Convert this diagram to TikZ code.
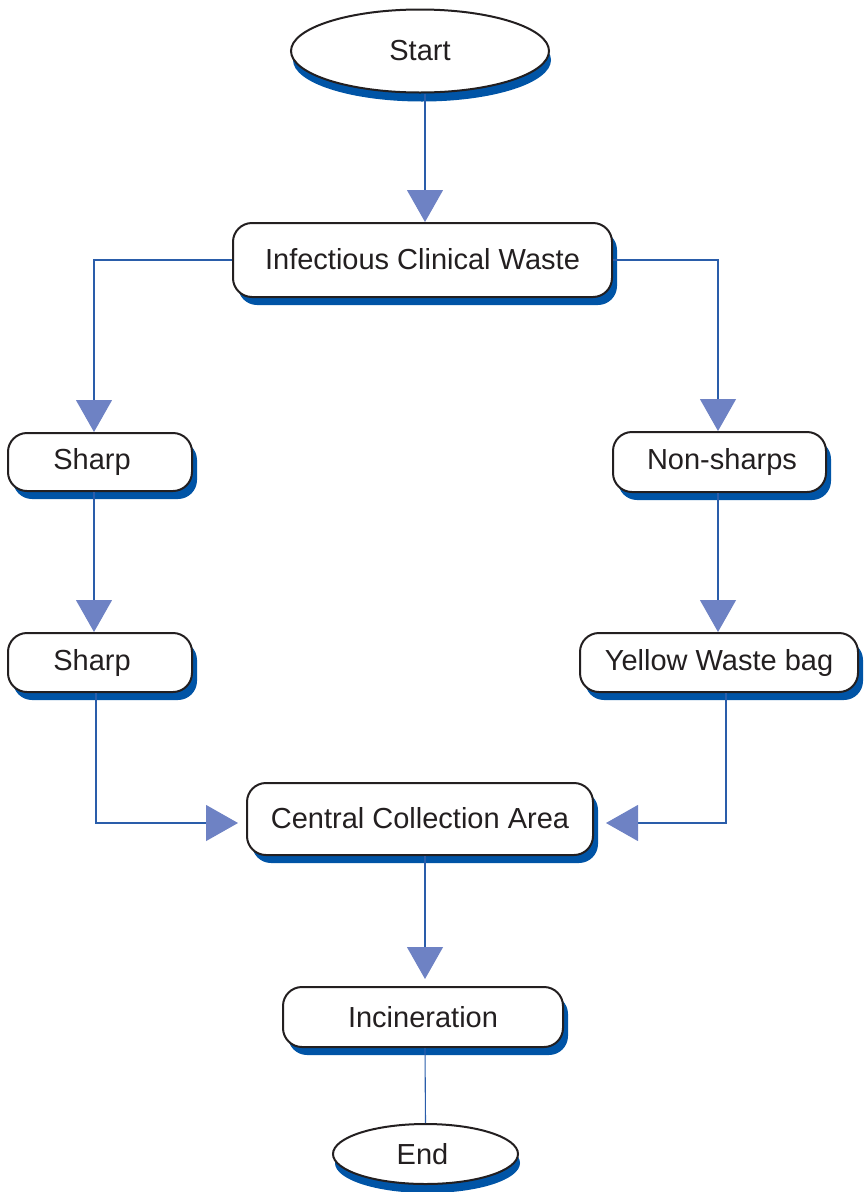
\documentclass[tikz,border=0pt]{standalone}
\usepackage{fontspec}
\setmainfont{Liberation Sans}
\usetikzlibrary{shapes.geometric,shadows,arrows.meta}
\definecolor{shadowblue}{HTML}{0054A6}
\definecolor{linec}{HTML}{2A5DAA}
\definecolor{arrowc}{HTML}{6E82C4}
\definecolor{textc}{HTML}{231F20}
\tikzset{
  base/.style={draw=textc, line width=2pt, fill=white, text=textc, inner sep=0pt,
    font=\fontsize{29}{34}\selectfont},
  terminal/.style={base, ellipse,
    general shadow={fill=shadowblue, shadow xshift=2pt, shadow yshift=-9pt}},
  procbox/.style={base, rectangle, rounded corners=19pt,
    general shadow={fill=shadowblue, shadow xshift=5pt, shadow yshift=-8pt}},
  conn/.style={draw=linec, line width=1.1pt},
  arr/.style={conn, -{Triangle[width=36pt,length=32pt,color=arrowc,fill=arrowc]}}
}
\begin{document}
\begin{tikzpicture}[x=1pt,y=-1pt]
\useasboundingbox (0,0) rectangle (865,1192);
\node[terminal, minimum width=258pt, minimum height=83pt] (start) at (420,51) {\raisebox{2pt}{Start}};
\node[procbox, minimum width=379pt, minimum height=74pt] (infec) at (422.5,260) {\raisebox{2pt}{Infectious Clinical Waste}};
\node[procbox, minimum width=184pt, minimum height=58pt] (sharp1) at (100,462) {\hspace*{-16pt}Sharp};
\node[procbox, minimum width=213pt, minimum height=60pt] (nonsharp) at (719.5,462) {\hspace*{5pt}Non-sharps};
\node[procbox, minimum width=184pt, minimum height=59pt] (sharp2) at (100,662.5) {\hspace*{-16pt}Sharp};
\node[procbox, minimum width=278pt, minimum height=59pt] (yellow) at (719,662.5) {Yellow Waste bag};
\node[procbox, minimum width=346pt, minimum height=72pt] (central) at (420,819) {\raisebox{2pt}{Central Collection Area}};
\node[procbox, minimum width=280pt, minimum height=60pt] (incin) at (423,1017) {Incineration};
\node[terminal, minimum width=185pt, minimum height=60pt] (end) at (425.5,1154) {\raisebox{-2pt}{\hspace*{-6pt}End}};

\draw[arr] ([xshift=5pt]start.south) -- ([xshift=2.5pt]infec.north);
\draw[arr] (infec.west) -| ([xshift=-6pt]sharp1.north);
\draw[arr] (infec.east) -| ([xshift=-1.5pt]nonsharp.north);
\draw[arr] ([xshift=-6pt]sharp1.south) -- ([xshift=-6pt]sharp2.north);
\draw[arr] ([xshift=-1.5pt]nonsharp.south) -- ([xshift=-1pt]yellow.north);
\draw[arr] ([xshift=-4pt]sharp2.south) |- ([xshift=-8pt,yshift=-4pt]central.west);
\draw[arr] ([xshift=7pt]yellow.south) |- ([xshift=12pt,yshift=-4pt]central.east);
\draw[arr] ([xshift=5pt]central.south) -- ([xshift=2pt,yshift=7pt]incin.north);
\draw[conn] ([xshift=2pt]incin.south) -- (end.north);
\end{tikzpicture}
\end{document}
